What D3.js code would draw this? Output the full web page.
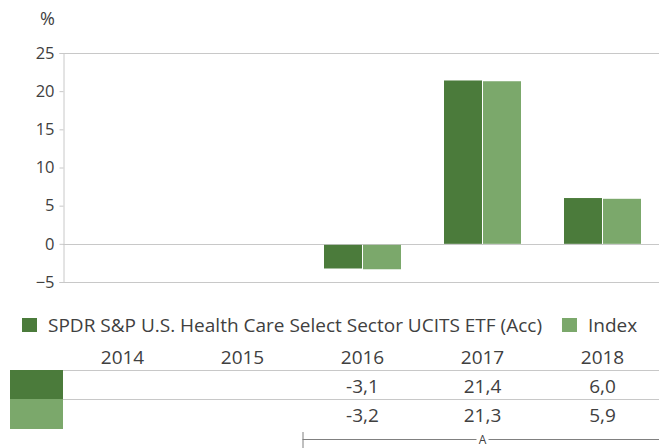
<!DOCTYPE html>
<html>
<head>
<meta charset="utf-8">
<script src="https://cdn.jsdelivr.net/npm/d3@7"></script>
<style>
  body { margin: 0; background: #fff; }
  svg text { font-family: "Open Sans", sans-serif; fill: #404040; }
</style>
</head>
<body>
<svg id="chart" width="659" height="448"></svg>
<script>
// chart data
var years = ["2014", "2015", "2016", "2017", "2018"];
var fund = [null, null, -3.1, 21.4, 6.0];
var index = [null, null, -3.2, 21.3, 5.9];
var fundLabels = ["", "", "-3,1", "21,4", "6,0"];
var indexLabels = ["", "", "-3,2", "21,3", "5,9"];
var yTicks = [-5, 0, 5, 10, 15, 20, 25];
var seriesNames = ["SPDR S&P U.S. Health Care Select Sector UCITS ETF (Acc)", "Index"];
var colors = ["#4b7b3b", "#7ba86b"];

var svg = d3.select("#chart");
var W = 659;

var x = d3.scaleBand()
  .domain(years)
  .range([62.5, 662.5]);

var y = d3.scaleLinear()
  .domain([-5, 25])
  .range([282, 53]);

// gridlines only at top, zero and bottom
svg.selectAll(".grid")
  .data([25, 0, -5])
  .enter()
  .append("line")
  .attr("x1", 63)
  .attr("x2", W)
  .attr("y1", function(d) { return Math.round(y(d)) + 0.5; })
  .attr("y2", function(d) { return Math.round(y(d)) + 0.5; })
  .style("stroke", "#c8c8c8")
  .style("stroke-width", 1);

// y axis
var yAxis = d3.axisLeft(y)
  .tickValues(yTicks)
  .tickSize(4)
  .tickPadding(5)
  .tickFormat(d3.format("d"));

var ga = svg.append("g")
  .attr("transform", "translate(63.5,0)")
  .call(yAxis);
ga.select(".domain").style("stroke", "#c8c8c8");
ga.selectAll(".tick line").style("stroke", "#c8c8c8");
ga.selectAll(".tick text")
  .style("font-size", "16.5px")
  .style("fill", "#404040")
  .style("font-family", "'Open Sans', sans-serif");

svg.append("text")
  .attr("x", 55)
  .attr("y", 25)
  .attr("text-anchor", "end")
  .style("font-size", "18px")
  .text("%");

// bars
var bw = 38;
var series = [fund, index];
series.forEach(function(vals, s) {
  svg.selectAll(".bar" + s)
    .data(years.map(function(yr, i) { return {year: yr, v: vals[i]}; })
      .filter(function(d) { return d.v !== null; }))
    .enter()
    .append("rect")
    .attr("x", function(d) { return x(d.year) + x.bandwidth() / 2 - bw + s * (bw + 1) - 0.5; })
    .attr("y", function(d) { return d.v >= 0 ? y(d.v) : y(0) + 1; })
    .attr("width", bw)
    .attr("height", function(d) { return Math.abs(y(d.v) - y(0)); })
    .style("fill", colors[s]);
});

// legend
var lx = 22;
seriesNames.forEach(function(name, i) {
  svg.append("rect")
    .attr("x", lx)
    .attr("y", 318)
    .attr("width", 15)
    .attr("height", 14)
    .style("fill", colors[i]);
  var t = svg.append("text")
    .attr("x", lx + 26)
    .attr("y", 332)
    .style("font-size", "19px")
    .text(name);
  lx = lx + 26 + t.node().getComputedTextLength() + 20;
});

// data table
svg.selectAll(".year")
  .data(years)
  .enter()
  .append("text")
  .attr("x", function(d) { return x(d) + x.bandwidth() / 2; })
  .attr("y", 364)
  .attr("text-anchor", "middle")
  .style("font-size", "19px")
  .text(function(d) { return d; });

[370, 399].forEach(function(ly) {
  svg.append("line")
    .attr("x1", 63).attr("x2", W)
    .attr("y1", ly + 0.5).attr("y2", ly + 0.5)
    .style("stroke", "#c8c8c8");
});

svg.append("rect").attr("x", 10).attr("y", 370).attr("width", 53).attr("height", 29).style("fill", colors[0]);
svg.append("rect").attr("x", 10).attr("y", 399).attr("width", 53).attr("height", 30).style("fill", colors[1]);

[fundLabels, indexLabels].forEach(function(labels, r) {
  svg.selectAll(".val" + r)
    .data(labels)
    .enter()
    .append("text")
    .attr("x", function(d, i) { return x(years[i]) + x.bandwidth() / 2; })
    .attr("y", r == 0 ? 393 : 422)
    .attr("text-anchor", "middle")
    .style("font-size", "19px")
    .text(function(d) { return d; });
});

// benchmark period bracket
var bx = x("2016");
var mid = x("2017") + x.bandwidth() / 2;
svg.append("line")
  .attr("x1", bx + 0.5).attr("x2", bx + 0.5)
  .attr("y1", 432).attr("y2", 448)
  .style("stroke", "#808080");
svg.append("line")
  .attr("x1", bx).attr("x2", mid - 6)
  .attr("y1", 439.5).attr("y2", 439.5)
  .style("stroke", "#808080");
svg.append("line")
  .attr("x1", mid + 6).attr("x2", W)
  .attr("y1", 439.5).attr("y2", 439.5)
  .style("stroke", "#808080");
svg.append("text")
  .attr("x", mid)
  .attr("y", 444)
  .attr("text-anchor", "middle")
  .style("font-size", "12px")
  .text("A");
</script>
</body>
</html>
